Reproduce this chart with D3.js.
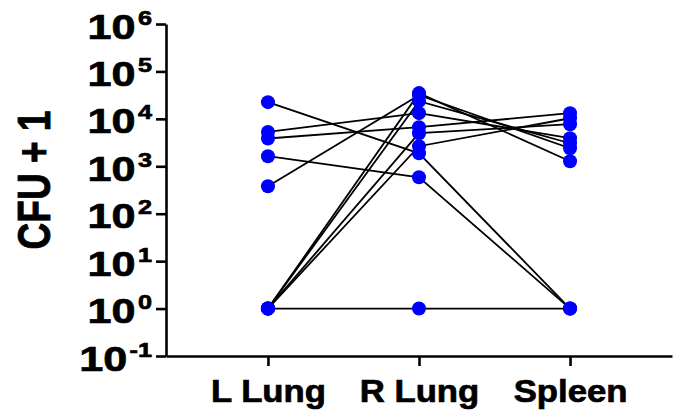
<!DOCTYPE html>
<html>
<head>
<meta charset="utf-8">
<script src="https://cdn.jsdelivr.net/npm/d3@7"></script>
<style>
  body { margin: 0; background: #fff; }
  text { font-family: "Liberation Sans", Arial, sans-serif; font-weight: bold; fill: #000; stroke: #000; stroke-width: 0.7px; }
</style>
</head>
<body>
<div id="chart-area"></div>
<script>
// Data: one entry per animal, CFU + 1 in each organ
const categories = ['L Lung', 'R Lung', 'Spleen'];
const lLung  = [22500, 5300, 3850, 1630, 380, 1, 1, 1, 1, 1];
const rLung  = [1880, 13200, 6670, 586, 31600, 34900, 23600, 4980, 2650, 1];
const spleen = [1, 3910, 13200, 1, 2400, 1280, 3060, 7720, 10300, 1];
const yExponents = [-1, 0, 1, 2, 3, 4, 5, 6];

// SVG drawing area
let margin = { top: 24, right: 3, bottom: 64, left: 166 };
let width = 675 - margin.left - margin.right,
  height = 420 - margin.top - margin.bottom;

let svg = d3
  .select('#chart-area')
  .append('svg')
  .attr('width', 675)
  .attr('height', 420)
  .append('g')
  .attr('transform', 'translate(' + margin.left + ',' + margin.top + ')');

// Scales
let x = d3.scalePoint().domain(categories).range([0, width]).padding(0.675);
let y = d3.scaleLog().domain([0.1, 1e6]).range([height, 0]);

// Rows per animal
let animals = lLung.map((d, i) => [
  { cat: categories[0], v: lLung[i] },
  { cat: categories[1], v: rLung[i] },
  { cat: categories[2], v: spleen[i] }
]);

// Connecting lines
let line = d3.line().x(d => x(d.cat)).y(d => y(d.v));
svg.selectAll('.pair')
  .data(animals)
  .enter()
  .append('path')
  .attr('class', 'pair')
  .attr('d', line)
  .attr('fill', 'none')
  .attr('stroke', '#000')
  .attr('stroke-width', 1.8);

// Points
let pts = animals.flat();
svg.selectAll('.point')
  .data(pts)
  .enter()
  .append('circle')
  .attr('class', 'point')
  .attr('cx', d => x(d.cat))
  .attr('cy', d => y(d.v))
  .attr('r', 7)
  .attr('fill', '#0000ff');

// Y axis
let yAxis = svg.append('g')
  .attr('class', 'axis y-axis')
  .call(d3.axisLeft(y)
    .tickValues(yExponents.map(e => Math.pow(10, e)))
    .tickSize(10)
    .tickSizeOuter(0)
    .tickFormat(''));
yAxis.selectAll('.tick text').remove();

let labels = yAxis.selectAll('.tick')
  .append('text')
  .attr('text-anchor', 'end')
  .attr('transform', 'translate(-14,0) scale(1.2,1)')
  .attr('y', 14);
labels.append('tspan').attr('font-size', 36).text('10');
labels.append('tspan')
  .attr('font-size', 21)
  .attr('dx', 2)
  .attr('dy', -14)
  .text((d, i) => yExponents[i]);

// X axis
let xAxis = svg.append('g')
  .attr('class', 'axis x-axis')
  .attr('transform', `translate(0, ${height})`)
  .call(d3.axisBottom(x).tickSize(10).tickSizeOuter(0).tickFormat(''));
xAxis.selectAll('.tick text').remove();
xAxis.selectAll('.tick')
  .append('text')
  .attr('text-anchor', 'middle')
  .attr('transform', 'translate(0,46) scale(1.12,1)')
  .attr('font-size', 31)
  .text(d => d);

svg.selectAll('.axis path, .axis line')
  .attr('stroke', '#000')
  .attr('stroke-width', 2.6);

// Axis title
svg.append('text')
  .attr('text-anchor', 'middle')
  .attr('transform', `translate(${50 - margin.left}, ${180 - margin.top}) scale(1.25,1) rotate(-90)`)
  .attr('font-size', 37)
  .text('CFU + 1');
</script>
</body>
</html>
